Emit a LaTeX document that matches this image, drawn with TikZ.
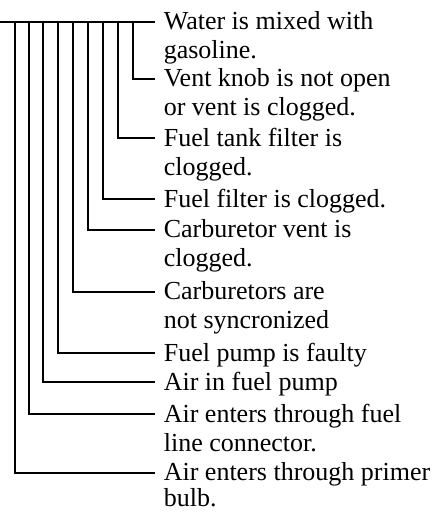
\documentclass[tikz,border=0pt]{standalone}
\usepackage{fontspec}
\setmainfont{Liberation Serif}
\tikzset{cause/.style={anchor=north west, inner sep=0pt, align=left, font=\fontsize{26}{29}\selectfont}}
\begin{document}
\begin{tikzpicture}[x=1pt,y=-1pt,line width=1.6pt]
	\useasboundingbox (0,0) rectangle (436,512);
	% causes
	\node[cause] (water) at (163,11) {Water is mixed with\\gasoline.};
	\node[cause] (vent) at (163,68) {Vent knob is not open\\or vent is clogged.};
	\node[cause] (tank) at (163,127) {Fuel tank filter is\\clogged.};
	\node[cause] (filter) at (163,188) {Fuel filter is clogged.};
	\node[cause] (carbvent) at (163,219) {Carburetor vent is\\clogged.};
	\node[cause] (carbsync) at (163,281) {Carburetors are\\not syncronized};
	\node[cause] (pump) at (163,342) {Fuel pump is faulty};
	\node[cause] (airpump) at (163,371) {Air in fuel pump};
	\node[cause] (airline) at (163,403) {Air enters through fuel\\line connector.};
	\node[cause, font=\fontsize{26}{26}\selectfont] (airbulb) at (163,462) {Air enters through primer\\bulb.};

	% trunk
	\coordinate (top) at (0,22);
	\coordinate (t1) at (133,22);
	\coordinate (t2) at (118,22);
	\coordinate (t3) at (103,22);
	\coordinate (t4) at (88,22);
	\coordinate (t5) at (73,22);
	\coordinate (t6) at (58,22);
	\coordinate (t7) at (43,22);
	\coordinate (t8) at (29,22);
	\coordinate (t9) at (15,22);

	\draw (top) -- ([xshift=-8pt,yshift=-11pt]water.north west);
	\draw (t1) |- ([xshift=-8pt,yshift=-11pt]vent.north west);
	\draw (t2) |- ([xshift=-8pt,yshift=-11pt]tank.north west);
	\draw (t3) |- ([xshift=-8pt,yshift=-11pt]filter.north west);
	\draw (t4) |- ([xshift=-8pt,yshift=-11pt]carbvent.north west);
	\draw (t5) |- ([xshift=-8pt,yshift=-11pt]carbsync.north west);
	\draw (t6) |- ([xshift=-8pt,yshift=-11pt]pump.north west);
	\draw (t7) |- ([xshift=-8pt,yshift=-11pt]airpump.north west);
	\draw (t8) |- ([xshift=-8pt,yshift=-11pt]airline.north west);
	\draw (t9) |- ([xshift=-8pt,yshift=-11pt]airbulb.north west);
\end{tikzpicture}
\end{document}
